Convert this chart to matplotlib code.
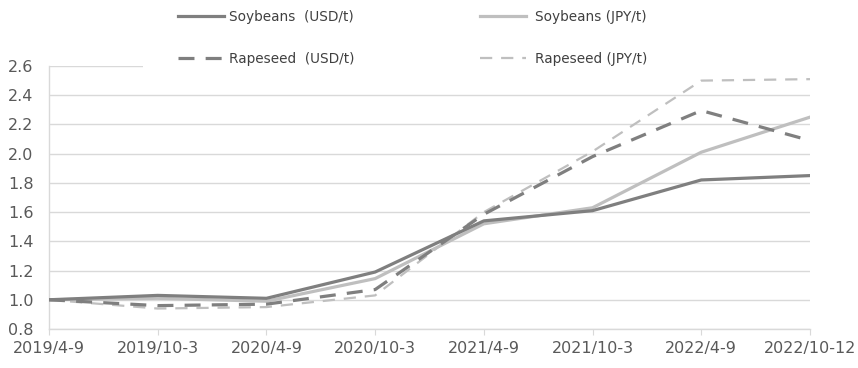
import matplotlib
matplotlib.use("Agg")
import matplotlib.pyplot as plt
from matplotlib.patches import Rectangle

periods = ["2019/4-9", "2019/10-3", "2020/4-9", "2020/10-3",
           "2021/4-9", "2021/10-3", "2022/4-9", "2022/10-12"]
soy_usd = [1.00, 1.03, 1.01, 1.19, 1.54, 1.61, 1.82, 1.85]
soy_jpy = [1.00, 1.01, 0.99, 1.145, 1.52, 1.63, 2.01, 2.25]
rape_usd = [1.00, 0.96, 0.97, 1.07, 1.585, 1.98, 2.295, 2.09]
rape_jpy = [1.00, 0.94, 0.95, 1.03, 1.60, 2.015, 2.50, 2.51]
yticks = [0.8, 1.0, 1.2, 1.4, 1.6, 1.8, 2.0, 2.2, 2.4, 2.6]

DARK = "#7f7f7f"
LIGHT = "#bfbfbf"
GRID = "#d9d9d9"
TXT = "#595959"

fig = plt.figure(figsize=(8.58, 3.68), dpi=100)
ax = fig.add_axes([49 / 858, 1 - 329 / 368, 761 / 858, 263 / 368])

x = list(range(len(periods)))
l_soy_usd, = ax.plot(x, soy_usd, color=DARK, lw=2.3, zorder=5,
                     label="Soybeans  (USD/t)")
l_soy_jpy, = ax.plot(x, soy_jpy, color=LIGHT, lw=2.3, zorder=4,
                     label="Soybeans (JPY/t)")
l_rape_usd, = ax.plot(x, rape_usd, color=DARK, lw=2.3, dashes=(5, 3.5),
                      zorder=6, label="Rapeseed  (USD/t)")
l_rape_jpy, = ax.plot(x, rape_jpy, color=LIGHT, lw=1.6, dashes=(5.5, 4),
                      zorder=3, label="Rapeseed (JPY/t)")

ax.set_xlim(0, len(periods) - 1)
ax.set_ylim(0.8, 2.6)
ax.set_yticks(yticks)
ax.set_yticklabels([f"{v:.1f}" for v in yticks])
ax.set_xticks(x)
ax.set_xticklabels(periods)
ax.grid(True, axis="y", color=GRID, lw=1.0)
ax.set_axisbelow(True)

for side in ("top", "right"):
    ax.spines[side].set_visible(False)
for side in ("left", "bottom"):
    ax.spines[side].set_color(GRID)
    ax.spines[side].set_linewidth(1.0)
ax.tick_params(axis="y", length=0, pad=11, labelsize=11.5, labelcolor=TXT)
ax.tick_params(axis="x", length=4, color=GRID, pad=5, labelsize=11.5,
               labelcolor=TXT)

# white block behind the legend hides the top gridline like the original
ax.add_patch(Rectangle(((143 - 49) / 761, 1 - 6 / 263), 1.1, 0.2,
                       transform=ax.transAxes, facecolor="white",
                       edgecolor="none", clip_on=False, zorder=1))

leg_font = {"family": ["Liberation Sans Narrow", "DejaVu Sans"], "size": 9.8}
leg1 = fig.legend(handles=[l_soy_usd, l_rape_usd], loc="upper left",
                  bbox_to_anchor=(178 / 858, 1 - 10 / 368), frameon=False,
                  prop=leg_font, handlelength=3.4, handletextpad=0.35,
                  labelspacing=2.05, borderpad=0, borderaxespad=0,
                  labelcolor="#404040")
leg2 = fig.legend(handles=[l_soy_jpy, l_rape_jpy], loc="upper left",
                  bbox_to_anchor=(480 / 858, 1 - 10 / 368), frameon=False,
                  prop=leg_font, handlelength=3.4, handletextpad=0.65,
                  labelspacing=2.05, borderpad=0, borderaxespad=0,
                  labelcolor="#404040")

fig.savefig("out.png", dpi=100)
